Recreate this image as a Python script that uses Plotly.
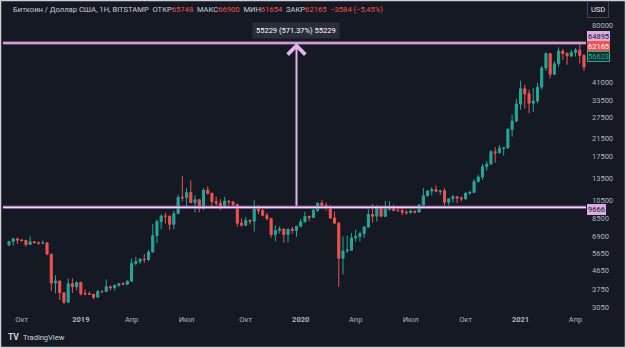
import math
import pandas as pd
import plotly.graph_objects as go

# ---------------- data (weekly candles, BTC/USD, Bitstamp) ----------------
week_start = "2018-09-10"
opens = [6240, 6500, 6710, 6620, 6580, 6290, 6490, 6420, 6390, 6400,
         5620, 4020, 4120, 3590, 3220, 3990, 3850, 4050, 3550, 3540,
         3530, 3410, 3650, 3640, 3850, 3810, 3920, 3990, 3970, 4110,
         5050, 5160, 5300, 5280, 5760, 6970, 8200, 8730, 8720, 7940,
         8990, 10850, 10800, 11470, 10200, 10550, 9520, 11800, 11380, 10320,
         10150, 9760, 10400, 10300, 9990, 8050, 7860, 8290, 8230, 9550,
         9300, 8810, 8500, 7050, 7400, 7520, 7060, 7510, 7390, 7760,
         8180, 8700, 8600, 9340, 10150, 9900, 9660, 8550, 8050, 5360,
         5830, 5880, 6780, 6900, 7130, 7700, 8890, 8720, 9660, 8720,
         9450, 9750, 9330, 9300, 9140, 9070, 9250, 9150, 9930, 11050,
         11680, 11850, 11640, 11700, 10250, 10670, 10930, 10770, 10670, 11370,
         11500, 13030, 13740, 15480, 15950, 18400, 18180, 19150, 19270, 23850,
         26300, 32000, 38200, 36000, 32300, 33100, 38900, 48600, 57400, 45200,
         51000, 59100, 57500, 55800, 58200, 59800, 56200]
highs = [6540, 6800, 6790, 6700, 6650, 6900, 6550, 6500, 6590, 6450,
         5640, 4400, 4140, 3620, 4240, 4250, 4090, 4090, 3730, 3650,
         3540, 3720, 3700, 4190, 3910, 3950, 4020, 4060, 4150, 5350,
         5460, 5360, 5630, 5900, 7980, 8380, 8900, 9090, 8800, 9300,
         11200, 13880, 12100, 13200, 11100, 10640, 12050, 12320, 11450, 10950,
         10630, 10900, 10450, 10320, 10100, 8500, 8650, 8420, 10500, 9950,
         9500, 9080, 8500, 7850, 7750, 7550, 7520, 7690, 7800, 8470,
         9190, 8780, 9560, 10160, 10500, 10200, 9960, 9200, 8180, 6900,
         6980, 7200, 7470, 7300, 7780, 9450, 10050, 9950, 9840, 10400,
         10380, 9990, 9800, 9770, 9350, 9450, 9290, 10050, 12100, 11800,
         12200, 12470, 11800, 12100, 10700, 11200, 10990, 10960, 11500, 11730,
         13400, 14100, 15950, 16500, 18800, 19400, 19900, 19400, 24200, 28400,
         34000, 41950, 40100, 37800, 38500, 40900, 49700, 58300, 57500, 52600,
         61700, 60600, 58400, 60000, 61200, 64895, 57000]
lows = [6160, 6200, 6330, 6500, 6120, 6270, 6380, 6260, 6340, 5550,
        3660, 3560, 3300, 3160, 3200, 3580, 3690, 3480, 3500, 3500,
        3350, 3390, 3580, 3630, 3690, 3700, 3840, 3930, 3920, 4090,
        4930, 5030, 5080, 5170, 5740, 6400, 7500, 8000, 7450, 7520,
        8980, 10340, 9650, 10850, 9100, 9100, 9370, 11200, 9500, 9850,
        9350, 9650, 9900, 9680, 7750, 7750, 7770, 7930, 7300, 8950,
        8700, 8300, 6790, 6520, 7150, 6430, 6450, 7130, 6870, 7660,
        8100, 8240, 8540, 9140, 9650, 9300, 8450, 8000, 3850, 4450,
        5700, 5860, 6500, 6500, 6780, 7620, 8100, 8200, 8820, 8630,
        9270, 9220, 9200, 8840, 8900, 9050, 9000, 9100, 9900, 10960,
        11130, 11500, 11150, 9880, 9900, 10200, 10160, 10370, 10530, 11200,
        11400, 12900, 13280, 14800, 15800, 16200, 18100, 17600, 19000, 21900,
        25900, 29900, 30400, 28800, 29200, 32300, 37900, 47000, 43000, 44900,
        49300, 53300, 50400, 55000, 55500, 51300, 47000]
closes = [6500, 6710, 6620, 6580, 6290, 6490, 6420, 6390, 6400, 5620,
          4020, 4120, 3590, 3220, 3990, 3850, 4050, 3550, 3540, 3530,
          3410, 3650, 3640, 3850, 3810, 3920, 3990, 3970, 4110, 5050,
          5160, 5300, 5280, 5760, 6970, 8200, 8730, 8720, 7940, 8990,
          10850, 10800, 11470, 10200, 10550, 9520, 11800, 11380, 10320, 10150,
          9760, 10400, 10300, 9990, 8050, 7860, 8290, 8230, 9550, 9300,
          8810, 8500, 7050, 7400, 7520, 7060, 7510, 7390, 7760, 8180,
          8700, 8600, 9340, 10150, 9900, 9660, 8550, 8050, 5360, 5830,
          5880, 6780, 6900, 7130, 7700, 8890, 8720, 9660, 8720, 9450,
          9750, 9330, 9300, 9140, 9070, 9250, 9150, 9930, 11050, 11680,
          11850, 11640, 11700, 10250, 10670, 10930, 10770, 10670, 11370, 11500,
          13030, 13740, 15480, 15950, 18400, 18180, 19150, 19270, 23850, 26300,
          32000, 38200, 36000, 32300, 33100, 38900, 48600, 57400, 45200, 51000,
          59100, 57500, 55800, 58200, 59800, 56200, 49100]
dates = pd.date_range(week_start, periods=len(closes), freq="7D")

x_tick_dates = ["2018-10-01", "2019-01-07", "2019-04-01", "2019-07-01",
                "2019-10-07", "2020-01-06", "2020-04-06", "2020-07-06",
                "2020-10-05", "2021-01-04", "2021-04-05"]
x_tick_text = ["Окт", "<b>2019</b>", "Апр", "Июл", "Окт", "<b>2020</b>",
               "Апр", "Июл", "Окт", "<b>2021</b>", "Апр"]
y_ticks = [80000, 41000, 33500, 27500, 21500, 17500, 13500, 10500,
           8500, 6900, 5650, 4650, 3750, 3050]

level_low = 9666
level_high = 64895
measure_date = "2019-12-30"
last_price = 62165
prev_price = 56623
measure_text = "55229 (571.37%) 55229"

hdr_name = "Биткоин / Доллар США, 1Н, BITSTAMP"
hdr_open, hdr_high, hdr_low, hdr_close = "65748", "66900", "61654", "62165"
hdr_change = "−3584 (−5,45%)"

# ---------------- style ----------------
BG = "#151924"
TXT = "#b2b5be"
UP = "#26a69a"
DN = "#ef5350"
PINK = "#dcaae4"
FONT = "Roboto"
W, H = 626, 348
ML, MR, MT, MB = 3, 40, 18, 35
PW, PH = W - ML - MR, H - MT - MB


def px_x(page_x):
    return (page_x - ML) / PW


def px_y(page_y):
    return 1 - (page_y - MT) / PH


fig = go.Figure()
fig.add_trace(go.Candlestick(
    x=dates, open=opens, high=highs, low=lows, close=closes,
    increasing=dict(line=dict(color=UP, width=1), fillcolor=UP),
    decreasing=dict(line=dict(color=DN, width=1), fillcolor=DN),
    whiskerwidth=0, hoverinfo="skip", showlegend=False,
))

shapes = []
for lv in (level_low, level_high):
    shapes.append(dict(type="line", xref="paper", x0=0, x1=1, yref="y",
                       y0=lv, y1=lv, line=dict(color="#a673b3", width=3)))
    shapes.append(dict(type="line", xref="paper", x0=0, x1=1, yref="y",
                       y0=lv, y1=lv, line=dict(color="#f2d2f6", width=1.2)))
# outer frame
shapes.append(dict(type="rect", xref="paper", yref="paper",
                   x0=px_x(0.5), x1=px_x(W - 0.5), y0=px_y(H - 0.5), y1=px_y(0.5),
                   line=dict(color="#cfd1d6", width=1.5), layer="above"))

ann = []
# measuring arrow
ann.append(dict(x=measure_date, y=math.log10(level_high), xref="x", yref="y",
                ax=measure_date, ay=math.log10(level_low), axref="x", ayref="y",
                showarrow=True, arrowhead=4, arrowsize=1.7, arrowwidth=2,
                arrowcolor="#e2b4ea", standoff=0, text=""))
ann.append(dict(x=measure_date, y=math.log10(level_high), xref="x", yref="y",
                yshift=13, showarrow=False, text=measure_text,
                font=dict(family=FONT, size=7.5, color="#ffffff"),
                bgcolor="#2a2e39", borderpad=3))
# right-axis price labels
for val, yshift, bg, fg, border in [
        (level_high, 7, PINK, "#131722", PINK),
        (last_price, 0, DN, "#ffffff", DN),
        (prev_price, -1.5, "#14302f", UP, UP),
        (level_low, -2, PINK, "#131722", PINK)]:
    ann.append(dict(x=1, xref="paper", y=math.log10(val), yref="y",
                    xanchor="left", xshift=1, yshift=yshift, showarrow=False,
                    text=str(val), font=dict(family=FONT, size=7.5, color=fg),
                    bgcolor=bg, bordercolor=border, borderwidth=1, borderpad=0))
# header
red = lambda s: "<span style='color:%s'>%s</span>" % (DN, s)
sp = "\u00a0\u00a0"
hdr = (hdr_name + sp + "ОТКР" + red(hdr_open) + sp + "МАКС" + red(hdr_high) + sp +
       "МИН" + red(hdr_low) + sp + "ЗАКР" + red(hdr_close) + sp + red(hdr_change))
ann.append(dict(x=px_x(11), y=px_y(9.5), xref="paper", yref="paper",
                xanchor="left", yanchor="middle", showarrow=False, text=hdr,
                font=dict(family=FONT, size=7.6, color="#c9ccd4")))
# USD button
ann.append(dict(x=px_x(598), y=px_y(10), xref="paper", yref="paper",
                xanchor="center", yanchor="middle", showarrow=False, text="USD",
                font=dict(family=FONT, size=7.5, color="#e0e3eb"),
                bordercolor="#434651", borderwidth=1, borderpad=3, bgcolor=BG))
# TradingView logo
ann.append(dict(x=px_x(6), y=px_y(337), xref="paper", yref="paper",
                xanchor="left", yanchor="middle", showarrow=False,
                text="<b>TV</b>", font=dict(family=FONT, size=8.5, color="#d1d4dc")))
ann.append(dict(x=px_x(21), y=px_y(337), xref="paper", yref="paper",
                xanchor="left", yanchor="middle", showarrow=False,
                text="TradingView", font=dict(family=FONT, size=7.5, color="#d1d4dc")))

fig.update_layout(
    width=W, height=H, margin=dict(l=ML, r=MR, t=MT, b=MB, pad=0),
    paper_bgcolor=BG, plot_bgcolor=BG,
    font=dict(family=FONT, size=7.5, color=TXT),
    shapes=shapes, annotations=ann, showlegend=False,
    xaxis=dict(type="date", range=["2018-08-31 02:00", "2021-04-22 08:00"],
               rangeslider=dict(visible=False), showgrid=False, zeroline=False,
               showline=False, ticks="", tickvals=x_tick_dates, ticktext=x_tick_text,
               tickfont=dict(family=FONT, size=7.5, color=TXT), fixedrange=True),
    yaxis=dict(type="log", range=[3.4536, 4.938], side="right", showgrid=False,
               zeroline=False, showline=False, ticks="", tickvals=y_ticks,
               ticktext=[str(v) for v in y_ticks], ticklabelstandoff=5,
               tickfont=dict(family=FONT, size=7.5, color=TXT), fixedrange=True),
)

fig.write_html("out.html", config={"displayModeBar": False})
